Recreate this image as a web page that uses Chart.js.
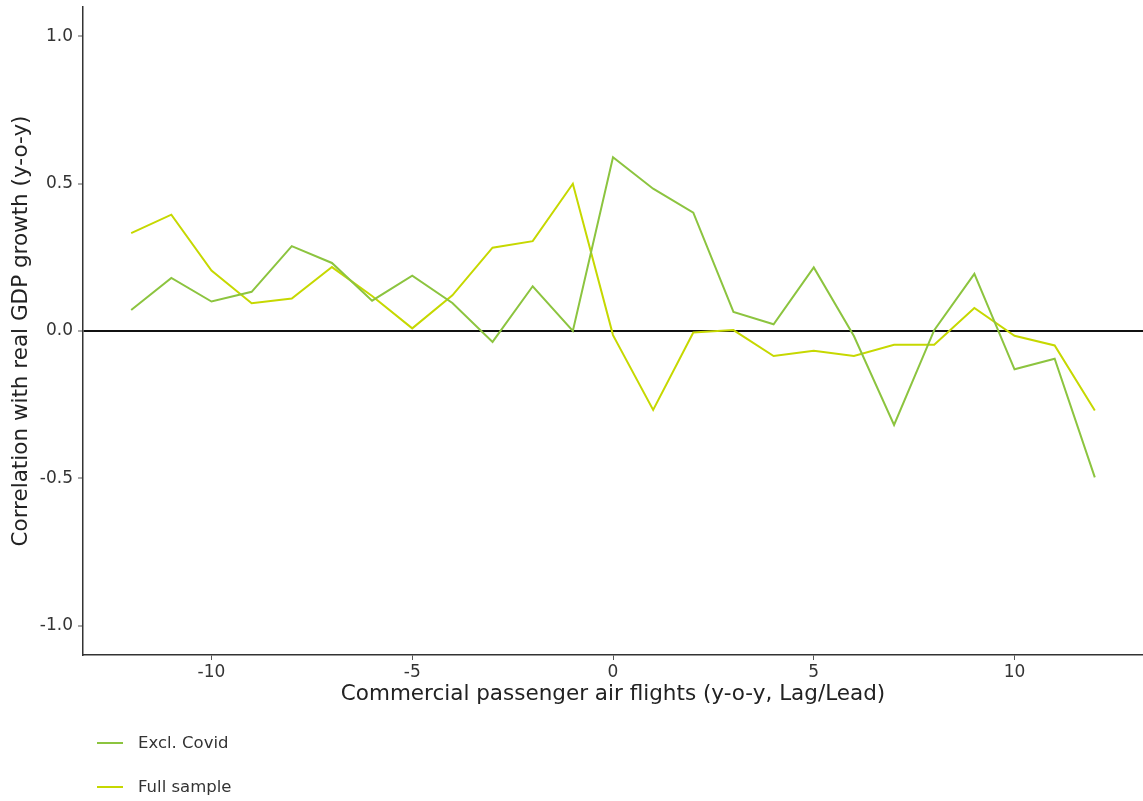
<!DOCTYPE html>
<html>
<head>
<meta charset="utf-8">
<script src="https://cdn.jsdelivr.net/npm/chart.js@4.4.1/dist/chart.umd.min.js"></script>
<style>
  html, body { margin: 0; padding: 0; background: #fff; }
  #wrap { width: 1143px; height: 801px; position: relative; }
</style>
</head>
<body>
<div id="wrap"><canvas id="c"></canvas></div>
<script>
// Lag/Lead positions (x axis)
const lags = [-12,-11,-10,-9,-8,-7,-6,-5,-4,-3,-2,-1,0,1,2,3,4,5,6,7,8,9,10,11,12];
// Correlation with real GDP growth, excluding Covid period
const exclCovid = [0.071,0.180,0.100,0.133,0.288,0.231,0.103,0.188,0.095,-0.037,0.152,0.000,0.590,0.483,0.402,0.065,0.023,0.216,-0.017,-0.319,0.003,0.194,-0.130,-0.094,-0.497];
// Correlation with real GDP growth, full sample
const fullSample = [0.332,0.395,0.205,0.094,0.110,0.217,0.119,0.009,0.121,0.283,0.305,0.500,-0.014,-0.268,-0.005,0.003,-0.085,-0.067,-0.085,-0.047,-0.047,0.078,-0.016,-0.049,-0.270];
const seriesNames = ['Excl. Covid', 'Full sample'];
const xTicks = [-10, -5, 0, 5, 10];
const yTicks = [-1.0, -0.5, 0.0, 0.5, 1.0];

const FONT = '"DejaVu Sans", Verdana, sans-serif';
const colors = ['#8cc43f', '#c6d800'];

const toPts = arr => arr.map((v, i) => ({ x: lags[i], y: v }));

const legendPlugin = {
  id: 'sideLegend',
  afterDraw(chart) {
    const ctx = chart.ctx;
    ctx.save();
    chart.data.datasets.forEach((ds, i) => {
      const y = 743 + i * 44;
      ctx.strokeStyle = ds.borderColor;
      ctx.lineWidth = 2;
      ctx.beginPath();
      ctx.moveTo(97, y);
      ctx.lineTo(123, y);
      ctx.stroke();
      ctx.fillStyle = '#333';
      ctx.font = '16.5px ' + FONT;
      ctx.textBaseline = 'middle';
      ctx.textAlign = 'left';
      ctx.fillText(ds.label, 138, y + 1);
    });
    ctx.restore();
  }
};

new Chart(document.getElementById('c'), {
  type: 'line',
  data: {
    datasets: [
      { label: seriesNames[0], data: toPts(exclCovid), borderColor: colors[0], backgroundColor: colors[0], borderWidth: 2, pointRadius: 0, tension: 0, fill: false },
      { label: seriesNames[1], data: toPts(fullSample), borderColor: colors[1], backgroundColor: colors[1], borderWidth: 2, pointRadius: 0, tension: 0, fill: false }
    ]
  },
  options: {
    responsive: true,
    maintainAspectRatio: false,
    animation: false,
    layout: { padding: { top: 7, right: 0, bottom: 94, left: 0 } },
    plugins: {
      legend: { display: false },
      tooltip: { enabled: false }
    },
    scales: {
      x: {
        type: 'linear',
        min: -13.2,
        max: 13.2,
        afterBuildTicks: s => { s.ticks = xTicks.map(v => ({ value: v })); },
        afterFit: s => { s.height = 52; s.paddingLeft = 0; s.paddingRight = 0; },
        ticks: {
          callback: v => String(v),
          font: { family: FONT, size: 17 },
          color: '#333',
          padding: 2,
          maxRotation: 0,
          autoSkip: false
        },
        grid: { drawOnChartArea: false, color: 'rgba(0,0,0,0)', tickColor: '#555', tickLength: 5, tickWidth: 1 },
        border: { display: true, color: '#333', width: 1.5 },
        title: {
          display: true,
          text: 'Commercial passenger air flights (y-o-y, Lag/Lead)',
          font: { family: FONT, size: 21.5 },
          color: '#222',
          padding: { top: 0, bottom: 0 }
        }
      },
      y: {
        type: 'linear',
        min: -1.1,
        max: 1.1,
        afterBuildTicks: s => { s.ticks = yTicks.map(v => ({ value: v })); },
        afterFit: s => { s.width = 83; s.paddingTop = 0; s.paddingBottom = 0; },
        ticks: {
          callback: v => Number(v).toFixed(1),
          font: { family: FONT, size: 17 },
          color: '#333',
          padding: 5,
          autoSkip: false
        },
        grid: {
          drawOnChartArea: true,
          color: c => (c.tick && c.tick.value === 0) ? '#111' : 'rgba(0,0,0,0)',
          lineWidth: 2,
          tickColor: '#555',
          tickLength: 5,
          tickWidth: 1
        },
        border: { display: true, color: '#333', width: 1.5 },
        title: {
          display: true,
          text: 'Correlation with real GDP growth (y-o-y)',
          font: { family: FONT, size: 21.5 },
          color: '#222',
          padding: { top: 9, bottom: 0 }
        }
      }
    }
  },
  plugins: [legendPlugin]
});
</script>
</body>
</html>
